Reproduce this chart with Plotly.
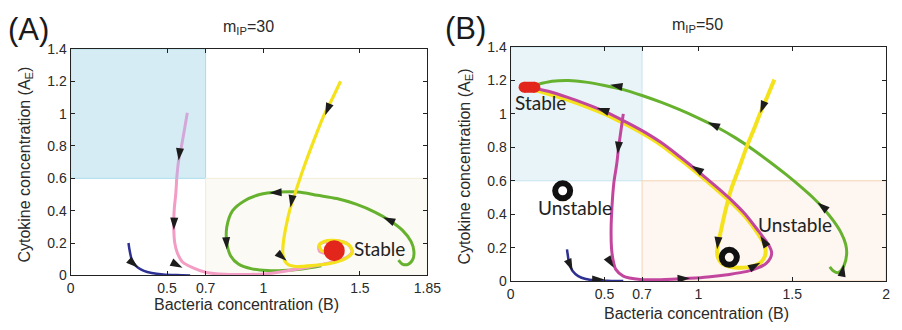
import math
import plotly.graph_objects as go

W, H = 902, 330

# ---------------- Panel A (m_IP = 30) ----------------
blueA_x = [0.30, 0.305, 0.315, 0.33, 0.35, 0.38, 0.42, 0.48, 0.55, 0.62]
blueA_y = [0.20, 0.16, 0.105, 0.07, 0.047, 0.028, 0.015, 0.006, 0.002, 0.0]

lavA_x = [0.605, 0.59, 0.575, 0.56, 0.55]
lavA_y = [1.005, 0.90, 0.80, 0.71, 0.60]

pinkA_x = [0.55, 0.545, 0.538, 0.535, 0.535, 0.54, 0.553, 0.58, 0.635, 0.705, 0.80, 0.90, 1.00,
           1.13, 1.25, 1.35, 1.43, 1.46, 1.43, 1.35, 1.29, 1.29, 1.33, 1.37]
pinkA_y = [0.60, 0.50, 0.42, 0.35, 0.28, 0.20, 0.14, 0.083, 0.047, 0.018, 0.007, 0.006, 0.008,
           0.03, 0.055, 0.08, 0.11, 0.15, 0.20, 0.215, 0.19, 0.15, 0.135, 0.15]

yellowA_x = [1.40, 1.36, 1.31, 1.26, 1.21, 1.17, 1.14, 1.12, 1.105, 1.10, 1.11, 1.13, 1.17,
             1.25, 1.35, 1.42, 1.46, 1.45, 1.40, 1.33, 1.29, 1.30, 1.34, 1.37]
yellowA_y = [1.20, 1.10, 0.98, 0.83, 0.67, 0.53, 0.42, 0.32, 0.22, 0.14, 0.09, 0.065, 0.055,
             0.06, 0.075, 0.10, 0.14, 0.18, 0.21, 0.215, 0.19, 0.155, 0.14, 0.15]

greenA_x = [1.70, 1.72, 1.75, 1.775, 1.78, 1.765, 1.72, 1.66, 1.58, 1.48, 1.38, 1.28, 1.18,
            1.08, 0.98, 0.90, 0.84, 0.81, 0.81, 0.83, 0.87, 0.94, 1.02, 1.10, 1.20, 1.30]
greenA_y = [0.094, 0.07, 0.068, 0.10, 0.15, 0.21, 0.28, 0.335, 0.39, 0.44, 0.475, 0.495, 0.515,
            0.515, 0.50, 0.46, 0.40, 0.30, 0.20, 0.12, 0.07, 0.04, 0.03, 0.03, 0.04, 0.06]

arrA_x = [0.35, 0.56, 0.535, 0.58, 1.32, 1.14, 1.12, 1.62, 1.03, 0.81]
arrA_y = [0.047, 0.71, 0.28, 0.047, 0.99, 0.42, 0.09, 0.36, 0.51, 0.16]
arrA_dx = [0.05, -0.01, -0.003, 0.05, -0.21, -0.03, 0.04, -0.15, -0.10, 0.005]
arrA_dy = [-0.05, -0.10, -0.10, -0.03, -0.60, -0.20, -0.04, 0.08, -0.005, -0.10]

stableA = (1.367, 0.153)

# ---------------- Panel B (m_IP = 50) ----------------
blueB_x = [0.30, 0.305, 0.31, 0.33, 0.36, 0.40, 0.45, 0.50, 0.55, 0.60]
blueB_y = [0.19, 0.15, 0.115, 0.06, 0.03, 0.012, 0.004, 0.002, 0.0, 0.0]

magB_x = [0.60, 0.59, 0.575, 0.565, 0.55, 0.54, 0.535, 0.537, 0.545, 0.56, 0.60, 0.69, 0.80,
          0.955, 1.05, 1.165, 1.26, 1.32, 1.36, 1.385, 1.39, 1.375, 1.36, 1.32, 1.25, 1.18,
          1.10, 1.00, 0.90, 0.80, 0.70, 0.60, 0.50, 0.40, 0.30, 0.20, 0.12]
magB_y = [1.00, 0.92, 0.80, 0.70, 0.59, 0.45, 0.31, 0.20, 0.13, 0.07, 0.03, 0.01, 0.008,
          0.017, 0.025, 0.04, 0.058, 0.08, 0.105, 0.14, 0.175, 0.215, 0.24, 0.30, 0.40, 0.48,
          0.56, 0.655, 0.745, 0.83, 0.90, 0.96, 1.015, 1.06, 1.10, 1.135, 1.155]

yellowB_x = [1.405, 1.37, 1.33, 1.295, 1.26, 1.22, 1.175, 1.145, 1.12, 1.105, 1.10, 1.105,
             1.125, 1.16, 1.21, 1.26, 1.30, 1.335, 1.355, 1.355, 1.32, 1.25, 1.18, 1.10, 1.00,
             0.90, 0.80, 0.70, 0.60, 0.50, 0.40, 0.30, 0.20, 0.12]
yellowB_y = [1.205, 1.11, 1.005, 0.905, 0.81, 0.685, 0.55, 0.425, 0.30, 0.22, 0.17, 0.14,
             0.105, 0.088, 0.08, 0.082, 0.092, 0.115, 0.15, 0.21, 0.28, 0.385, 0.465, 0.545, 0.64,
             0.73, 0.815, 0.885, 0.945, 1.00, 1.045, 1.085, 1.12, 1.145]

greenB_x = [1.70, 1.72, 1.745, 1.775, 1.79, 1.785, 1.76, 1.72, 1.67, 1.61, 1.545, 1.47, 1.39,
            1.30, 1.20, 1.10, 1.00, 0.90, 0.80, 0.70, 0.60, 0.50, 0.40, 0.31, 0.22, 0.14]
greenB_y = [0.085, 0.06, 0.05, 0.09, 0.16, 0.22, 0.29, 0.36, 0.43, 0.50, 0.565, 0.635, 0.705,
            0.78, 0.855, 0.92, 0.975, 1.025, 1.07, 1.11, 1.145, 1.17, 1.19, 1.20, 1.195, 1.175]

arrB_x = [0.33, 0.50, 0.57, 0.55, 0.955, 1.33, 0.965, 0.46, 1.33, 1.10, 1.33, 1.775, 1.635, 1.05, 0.53]
arrB_y = [0.06, 0.01, 0.76, 0.08, 0.017, 0.27, 0.69, 1.035, 1.005, 0.19, 0.11, 0.10, 0.47, 0.95, 1.175]
arrB_dx = [0.02, 0.10, -0.01, 0.03, 0.10, -0.10, -0.40, -0.28, -0.07, -0.01, 0.05, 0.01, -0.10, -0.20, -0.10]
arrB_dy = [-0.05, 0.0, -0.10, -0.05, 0.005, 0.17, 0.28, 0.10, -0.20, -0.10, 0.03, 0.06, 0.09, 0.10, 0.02]

stableB = (0.10, 1.16)
unstableB_x = [0.277, 1.165]
unstableB_y = [0.54, 0.142]

# thresholds of shaded regions
B_thr = 0.7
AE_thr = 0.6

# ---------------- layout geometry ----------------
xdomA = [68 / W, 432 / W]
ydomA = [1 - 281 / H, 1 - 43 / H]
xdomB = [517 / W, 900 / W]
ydomB = [1 - 287 / H, 1 - 41 / H]
xrA, yrA = [0, 1.85], [0, 1.4]
xrB, yrB = [0, 2.0], [0, 1.4]

BLUE = "#2e3192"
PINK = "#f39cc4"
LAV = "#d3a8d8"
YEL = "#f4e21c"
GRN = "#66b22e"
MAG = "#c2469d"
RED = "#e3261c"

fig = go.Figure()


def line(x, y, color, width, xa, ya):
    fig.add_trace(go.Scatter(x=x, y=y, mode="lines", xaxis=xa, yaxis=ya,
                             line=dict(color=color, width=width, shape="spline", smoothing=0.8),
                             hoverinfo="skip", showlegend=False))


def arrows(xs, ys, dxs, dys, xa, ya, xdom, ydom, xr, yr):
    sx = (xdom[1] - xdom[0]) * W / (xr[1] - xr[0])
    sy = (ydom[1] - ydom[0]) * H / (yr[1] - yr[0])
    ang = [math.degrees(math.atan2(dx * sx, dy * sy)) for dx, dy in zip(dxs, dys)]
    fig.add_trace(go.Scatter(x=xs, y=ys, mode="markers", xaxis=xa, yaxis=ya,
                             marker=dict(symbol="arrow", size=13, angle=ang, color="#1c1c1c",
                                         line=dict(width=0)),
                             hoverinfo="skip", showlegend=False))


# Panel A
line(blueA_x, blueA_y, BLUE, 2.5, "x", "y")
line(greenA_x, greenA_y, GRN, 3, "x", "y")
line(pinkA_x, pinkA_y, PINK, 3, "x", "y")
line(lavA_x, lavA_y, LAV, 3, "x", "y")
line(yellowA_x, yellowA_y, YEL, 3.2, "x", "y")
fig.add_trace(go.Scatter(x=[stableA[0]], y=[stableA[1]], mode="markers", xaxis="x", yaxis="y",
                         marker=dict(size=21, color=RED, line=dict(width=0)),
                         hoverinfo="skip", showlegend=False))
arrows(arrA_x, arrA_y, arrA_dx, arrA_dy, "x", "y", xdomA, ydomA, xrA, yrA)

# Panel B
line(blueB_x, blueB_y, BLUE, 2.5, "x2", "y2")
line(greenB_x, greenB_y, GRN, 3, "x2", "y2")
line(yellowB_x, yellowB_y, YEL, 4, "x2", "y2")
line(magB_x, magB_y, MAG, 3, "x2", "y2")
sxB = (xdomB[1] - xdomB[0]) * W / (xrB[1] - xrB[0])
half = 5.5 / sxB
fig.add_trace(go.Scatter(x=[stableB[0] - half, stableB[0] + half], y=[stableB[1], stableB[1]],
                         mode="lines+markers", xaxis="x2", yaxis="y2",
                         line=dict(color=RED, width=11),
                         marker=dict(size=11, color=RED, line=dict(width=0)),
                         hoverinfo="skip", showlegend=False))
fig.add_trace(go.Scatter(x=unstableB_x, y=unstableB_y, mode="markers", xaxis="x2", yaxis="y2",
                         marker=dict(symbol="circle-open", size=15, color="#111111",
                                     line=dict(width=6, color="#111111")),
                         hoverinfo="skip", showlegend=False))
arrows(arrB_x, arrB_y, arrB_dx, arrB_dy, "x2", "y2", xdomB, ydomB, xrB, yrB)

# shaded regions
shapes = [
    dict(type="rect", xref="x", yref="y", x0=0, x1=B_thr, y0=AE_thr, y1=yrA[1],
         fillcolor="#d6ecf4", line=dict(color="#a9dcea", width=1), layer="below"),
    dict(type="rect", xref="x", yref="y", x0=B_thr, x1=xrA[1], y0=0, y1=AE_thr,
         fillcolor="#fcfaf5", line=dict(color="#f2ecd8", width=1), layer="below"),
    dict(type="rect", xref="x2", yref="y2", x0=0, x1=B_thr, y0=AE_thr, y1=yrB[1],
         fillcolor="#e9f4f8", line=dict(color="#c6e4ee", width=1), layer="below"),
    dict(type="rect", xref="x2", yref="y2", x0=B_thr, x1=xrB[1], y0=0, y1=AE_thr,
         fillcolor="#fdf6f1", line=dict(color="#f5d3b5", width=1), layer="below"),
]

TXT = "#2a2a2a"
FONT = "Liberation Sans, Arial, sans-serif"
axis_common = dict(showgrid=False, zeroline=False, showline=True, linecolor="#222222", linewidth=1.3,
                   mirror="ticks", ticks="inside", ticklen=4, tickwidth=1.2, tickcolor="#222222",
                   tickfont=dict(family=FONT, size=14, color=TXT), fixedrange=True)

xticksA = [0, 0.5, 0.7, 1, 1.5, 1.85]
xticksB = [0, 0.5, 0.7, 1, 1.5, 2]
yticks = [0, 0.2, 0.4, 0.6, 0.8, 1, 1.2, 1.4]


def lab(v):
    return ("%g" % v)


fig.update_layout(
    width=W, height=H, margin=dict(l=0, r=0, t=0, b=0),
    paper_bgcolor="white", plot_bgcolor="white", showlegend=False,
    shapes=shapes,
    xaxis=dict(domain=xdomA, range=xrA, anchor="y", tickvals=xticksA,
               ticktext=[lab(v) for v in xticksA], **axis_common),
    yaxis=dict(domain=ydomA, range=yrA, anchor="x", tickvals=yticks,
               ticktext=[lab(v) for v in yticks], **axis_common),
    xaxis2=dict(domain=xdomB, range=xrB, anchor="y2", tickvals=xticksB,
                ticktext=[lab(v) for v in xticksB], **axis_common),
    yaxis2=dict(domain=ydomB, range=yrB, anchor="x2", tickvals=yticks,
                ticktext=[lab(v) for v in yticks], **axis_common),
)

ann = []


def paper_text(text, x, y, size, angle=0, family=FONT, color=TXT):
    ann.append(dict(text=text, x=x / W, y=1 - y / H, xref="paper", yref="paper", showarrow=False,
                    xanchor="center", yanchor="middle", textangle=angle,
                    font=dict(family=family, size=size, color=color)))


paper_text("(A)", 25, 23, 31, color="#1a1a1a")
paper_text("(B)", 471, 22, 31, color="#1a1a1a")
paper_text("m<sub>IP</sub>=30", 249, 21, 16)
paper_text("m<sub>IP</sub>=50", 708, 18, 16)
paper_text("Bacteria concentration (B)", 247, 312, 16)
paper_text("Bacteria concentration (B)", 707, 321, 16)
paper_text("Cytokine concentration (A<sub>E</sub>)", 21, 165, 16, angle=-90)
paper_text("Cytokine concentration (A<sub>E</sub>)", 471, 167, 16, angle=-90)

LBL = "Lato, Open Sans, sans-serif"


def data_text(text, x, y, xa, ya, anchor="center"):
    ann.append(dict(text=text, x=x, y=y, xref=xa, yref=ya, showarrow=False,
                    xanchor=anchor, yanchor="middle",
                    font=dict(family=LBL, size=19, color="#222222")))


data_text("Stable", 1.46, 0.165, "x", "y", "left")
data_text("Stable", 0.16, 1.07, "x2", "y2")
data_text("Unstable", 0.345, 0.44, "x2", "y2")
data_text("Unstable", 1.515, 0.34, "x2", "y2")

fig.update_layout(annotations=ann)
fig.write_html("out.html")
